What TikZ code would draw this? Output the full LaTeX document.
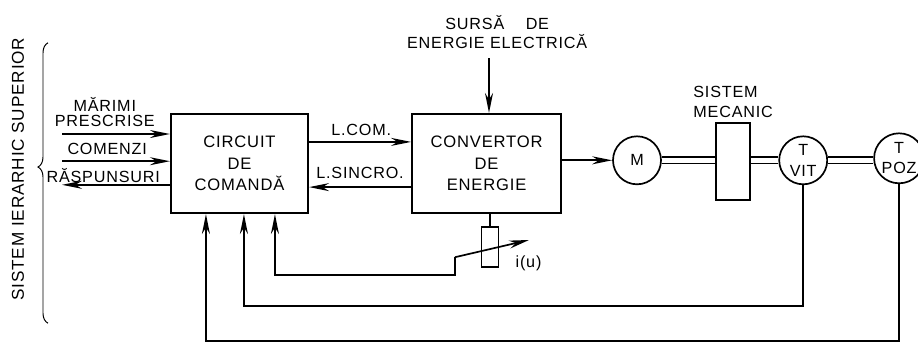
\documentclass[tikz,border=0pt]{standalone}
\usepackage{fontspec}
\setmainfont[LetterSpace=5]{Liberation Sans}
\usetikzlibrary{arrows.meta, positioning, calc, decorations.pathreplacing}

\begin{document}
\begin{tikzpicture}[
    box/.style={rectangle, draw, line width=1.5pt, minimum height=2.475cm, align=center, inner sep=0pt, font=\fontsize{11.8}{15.3}\selectfont},
    machine/.style={circle, draw, line width=1.2pt, minimum size=1.2cm, inner sep=0pt, align=center, font=\fontsize{11.5}{14.5}\selectfont},
    arrow/.style={-{Stealth[length=5mm, width=2mm]}, line width=1.2pt},
    wire/.style={line width=1.2pt},
    shaft/.style={double, double distance=0.12cm, line width=1.1pt},
    label/.style={inner sep=0pt, align=center, font=\fontsize{11.5}{10.8}\selectfont}
]
\useasboundingbox (0,0) rectangle (22.95,-8.675);

% Main blocks
\node[box, minimum width=3.425cm] (circuit) at (5.9875,-4.0875) {CIRCUIT\\DE\\COMANDĂ};
\node[box, minimum width=3.725cm, right=2.55cm of circuit] (convertor) {CONVERTOR\\DE\\ENERGIE};

% Drive line
\node[machine, right=1.25cm of convertor, yshift=0.08cm] (motor) {M};
\node[box, minimum width=0.85cm, minimum height=1.925cm, right=1.33cm of motor, yshift=-0.03cm] (mecanic) {};
\node[machine, right=0.68cm of mecanic, yshift=0.03cm] (tvit) {T\\VIT};
\node[machine, minimum size=1.25cm, right=1.13cm of tvit, yshift=0.05cm] (tpoz) {T\\POZ};

% Current sensor
\node[draw, line width=1.2pt, minimum width=0.425cm, minimum height=1cm, inner sep=0pt] (sensor) at (12.25,-6.18) {};
\coordinate (bend) at (11.375,-6.43);
\coordinate (tip) at (13.225,-6);

% Free ends on the left
\coordinate (in1) at (1.55,-3.35);
\coordinate (in2) at (1.55,-4.03);
\coordinate (out1) at (1.55,-4.62);
\coordinate (source) at (12.225,-1.45);

% Labels
\node[label] (marimi) at (2.62,-2.8) {MĂRIMI\\PRESCRISE};
\node[label] (comenzi) at (2.68,-3.72) {COMENZI};
\node[label] (raspuns) at (2.58,-4.38) {RĂSPUNSURI};
\node[label] (lcom) at (9.03,-3.25) {L.COM.};
\node[label] (lsincro) at (9,-4.33) {L.SINCRO.};
\node[label, font=\fontsize{11.5}{13}\selectfont] (sursa) at (12.43,-0.8) {SURSĂ\hspace{1em} DE\\ENERGIE ELECTRICĂ};
\node[label, align=left, font=\fontsize{11.5}{14}\selectfont, above=0.1cm of mecanic] (sistem) {SISTEM\\MECANIC};
\node[label, anchor=south west, xshift=0.4cm, yshift=-0.07cm] (iu) at (sensor.south east) {i(u)};
\node[label, rotate=90, font=\fontsize{12.2}{14}\selectfont] (superior) at (0.45,-4.23) {SISTEM IERARHIC SUPERIOR};

% Brace
\coordinate (bracetop) at (1.2,-1.07);
\coordinate (bracebot) at (1.2,-8.08);
\draw[decorate, decoration={brace, amplitude=0.25cm, aspect=0.557}, line width=0.7pt] (bracebot) -- (bracetop);

% Arrows
\draw[arrow] (in1) -- (in1 -| circuit.west);
\draw[arrow] (in2) -- (in2 -| circuit.west);
\draw[arrow] (out1 -| circuit.west) -- (out1);
\draw[arrow] ($(circuit.east)+(0,0.54)$) -- ($(convertor.west)+(0,0.54)$);
\draw[arrow] ($(convertor.west)+(0,-0.59)$) -- ($(circuit.east)+(0,-0.59)$);
\draw[arrow] (source) -- (source |- convertor.north);
\draw[arrow] (convertor.east |- motor) -- (motor);

% Shafts
\draw[shaft] (motor) -- (motor -| mecanic.west);
\draw[shaft] (tvit -| mecanic.east) -- (tvit);
\draw[shaft] (tvit) -- (tvit -| tpoz.west);

% Feedback
\draw[wire] (convertor.south -| sensor) -- (sensor);
\draw[arrow] (bend) -- (tip);
\draw[arrow] (bend) -- ($(bend)+(0,-0.45)$) -| ($(circuit.south west)+(2.625,0)$);
\draw[arrow] (tvit) |- ($(circuit.south west)+(1.85,-2.3)$) -- ($(circuit.south west)+(1.85,0)$);
\draw[arrow] (tpoz) |- ($(circuit.south west)+(0.9,-3.17)$) -- ($(circuit.south west)+(0.9,0)$);
\end{tikzpicture}
\end{document}
